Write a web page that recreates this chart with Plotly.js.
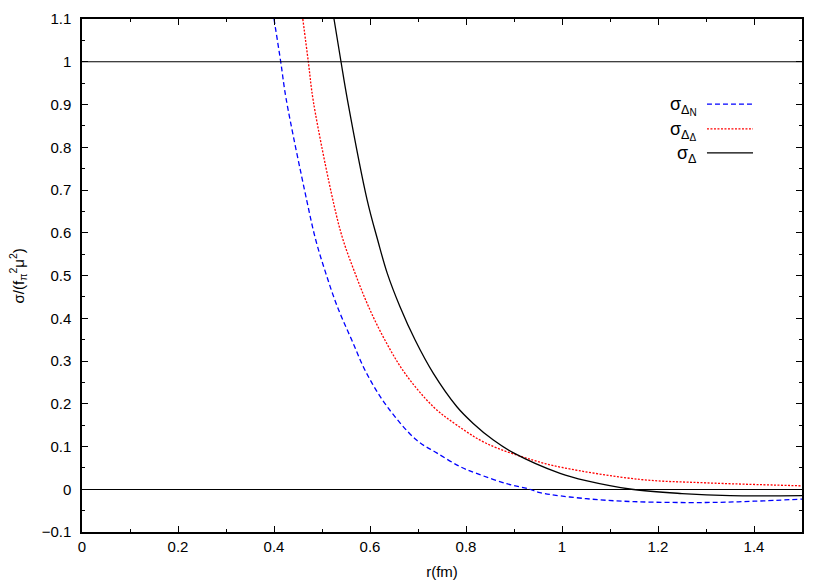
<!DOCTYPE html>
<html>
<head>
<meta charset="utf-8">
<script src="https://cdn.plot.ly/plotly-3.0.1.min.js"></script>
<style>
  body { margin: 0; background: #fff; }
  #plot { width: 830px; height: 581px; }
</style>
</head>
<body>
<div id="plot"></div>
<script>
// values
var rN = [0.400, 0.414, 0.425, 0.468, 0.487, 0.508, 0.532, 0.562, 0.593, 0.636, 0.697, 0.739, 0.7875, 0.822, 0.885, 0.933, 0.954, 1.05, 1.15, 1.30, 1.40, 1.50];
var sigmaDN = [1.10, 1.00, 0.915, 0.677, 0.583, 0.505, 0.427, 0.349, 0.271, 0.193, 0.115, 0.085, 0.053, 0.037, 0.013, 0.0, -0.008, -0.022, -0.029, -0.031, -0.028, -0.023];

var rD = [0.460, 0.4715, 0.482, 0.525, 0.544, 0.569, 0.597, 0.631, 0.673, 0.732, 0.781, 0.843, 0.940, 1.00, 1.1625, 1.30, 1.50];
var sigmaDD = [1.10, 1.00, 0.907, 0.665, 0.583, 0.505, 0.427, 0.349, 0.271, 0.193, 0.150, 0.107, 0.068, 0.051, 0.023, 0.015, 0.008];

var rT = [0.525, 0.5396, 0.553, 0.594, 0.616, 0.636, 0.6625, 0.694, 0.732, 0.781, 0.815, 0.857, 0.899, 0.996, 1.05, 1.145, 1.25, 1.35, 1.50];
var sigmaD = [1.10, 1.00, 0.911, 0.677, 0.583, 0.505, 0.427, 0.349, 0.271, 0.193, 0.154, 0.115, 0.085, 0.037, 0.020, 0.0, -0.010, -0.015, -0.015];

var names = [
  "σ<sub>Δ<sub><span style=\"font-size:10px\">N</span></sub></sub>",
  "σ<sub>Δ<sub><span style=\"font-size:10px\">Δ</span></sub></sub>",
  "σ<sub>Δ</sub>"
];
var colors = ["#0000ff", "#ff0000", "#000000"];
var dashes = ["5px,3px", "2px,1.5px", "solid"];

var font = {family: "Liberation Sans, Arial, sans-serif", size: 15, color: "#000"};

var traces = [
  {x: rN, y: sigmaDN, name: names[0]},
  {x: rD, y: sigmaDD, name: names[1]},
  {x: rT, y: sigmaD, name: names[2]}
].map(function (t, i) {
  t.type = "scatter";
  t.mode = "lines";
  t.line = {color: colors[i], dash: dashes[i], width: 1.3, shape: "spline", smoothing: 1.0};
  t.showlegend = false;
  return t;
});

// gnuplot style key: label on the left, line sample on the right
var keyY = [0.834, 0.786, 0.739];
var annotations = names.map(function (n, i) {
  return {xref: "paper", yref: "paper", x: 0.857, y: keyY[i] - 0.004, text: n, showarrow: false,
          xanchor: "right", yanchor: "middle", font: {family: font.family, size: 18, color: "#000"}};
});
// y axis title, placed further left than plotly's own title would go
annotations.push({xref: "paper", yref: "paper", x: -0.089, y: 0.5, textangle: -90, showarrow: false,
  xanchor: "center", yanchor: "middle", text: "σ/(f<sub>π</sub><sup>2</sup>μ<sup>2</sup>)", font: font});

var shapes = names.map(function (n, i) {
  return {type: "line", xref: "paper", yref: "paper", x0: 0.868, x1: 0.932, y0: keyY[i], y1: keyY[i],
          line: {color: colors[i], dash: dashes[i], width: 1.3}};
});
shapes.push({type: "line", xref: "paper", yref: "y", x0: 0, x1: 1, y0: 1, y1: 1, line: {color: "#000", width: 1}});

var layout = {
  width: 830, height: 581,
  margin: {l: 82, r: 28, t: 19, b: 49},
  paper_bgcolor: "#fff", plot_bgcolor: "#fff",
  font: font,
  xaxis: {
    range: [0, 1.5], dtick: 0.2, tick0: 0,
    ticks: "inside", ticklen: 6, tickcolor: "#000",
    minor: {dtick: 0.1, ticks: "inside", ticklen: 3, tickcolor: "#000"},
    showgrid: false, zeroline: false,
    showline: true, linecolor: "#000", linewidth: 1.5, mirror: "ticks",
    title: {text: "r(fm)", font: font, standoff: 13}
  },
  yaxis: {
    range: [-0.1, 1.1], dtick: 0.1, tick0: 0,
    ticks: "inside", ticklen: 6, tickcolor: "#000",
    minor: {dtick: 0.05, ticks: "inside", ticklen: 3, tickcolor: "#000"},
    ticklabelstandoff: 6,
    showgrid: false, zeroline: true, zerolinecolor: "#000", zerolinewidth: 1,
    showline: true, linecolor: "#000", linewidth: 1.5, mirror: "ticks"
  },
  annotations: annotations,
  shapes: shapes
};

Plotly.newPlot("plot", traces, layout, {displayModeBar: false});
</script>
</body>
</html>
